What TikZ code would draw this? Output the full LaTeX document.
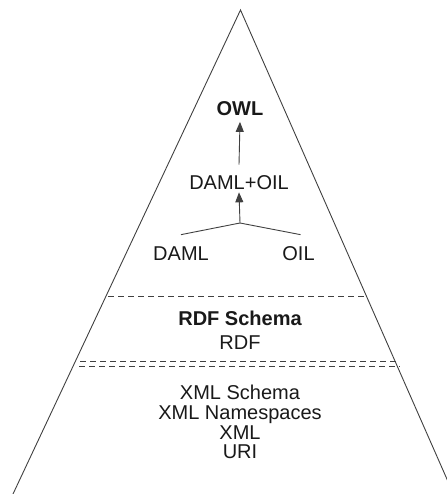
\documentclass[tikz,border=0pt]{standalone}
\usepackage{fontspec}
\setmainfont{Liberation Sans}
\usetikzlibrary{arrows.meta}
\begin{document}
\begin{tikzpicture}[x=1pt,y=-1pt,
  lbl/.style={inner sep=0pt,font=\fontsize{20}{20}\selectfont,text height=14.3pt,text depth=0pt,text=black!90},
  edge/.style={draw=black!75,line width=0.9pt},
  arr/.style={edge,-{Triangle[width=8pt,length=10pt]}},
  sep/.style={draw=black!75,line width=0.8pt,dash pattern=on 6pt off 4pt}]
\useasboundingbox (0,0) rectangle (446,494);
% pyramid
\coordinate (apex) at (240.5,10);
\coordinate (bl) at (13,494);
\coordinate (br) at (453.5,494);
\draw[edge] (bl) -- (apex) -- (br);
% separators
\coordinate (s1l) at (108,296); \coordinate (s1r) at (366,296);
\coordinate (s2l) at (80,361.5); \coordinate (s2r) at (398,361.5);
\coordinate (s3l) at (79,366); \coordinate (s3r) at (400,366);
\draw[sep] (s1l) -- (s1r);
\draw[sep] (s2l) -- (s2r);
\draw[sep] (s3l) -- (s3r);
% top layer
\node[lbl,font=\fontsize{20}{20}\selectfont\bfseries] (owl) at (240,108) {OWL};
\node[lbl] (damloil) at (239,182) {DAML+OIL};
\node[lbl] (daml) at (181,253) {DAML};
\node[lbl] (oil) at (298.5,253) {OIL};
\coordinate (j) at (240,223);
\draw[arr] ([yshift=10pt]damloil.north) -- ([yshift=-6.5pt]owl.south);
\draw[arr] (j) -- ([yshift=-3pt]damloil.south);
\draw[edge] ([yshift=11pt]daml.north) -- (j) -- ([yshift=11pt,xshift=2pt]oil.north);
% middle layer
\node[lbl,font=\fontsize{20}{20}\selectfont\bfseries] (rdfs) at (240,318) {RDF Schema};
\node[lbl] (rdf) at (240,342) {RDF};
% bottom layer
\node[lbl] (xmls) at (240,392) {XML Schema};
\node[lbl] (xmlns) at (240,412) {XML Namespaces};
\node[lbl] (xml) at (240,432) {XML};
\node[lbl] (uri) at (240,451) {URI};
\end{tikzpicture}
\end{document}
